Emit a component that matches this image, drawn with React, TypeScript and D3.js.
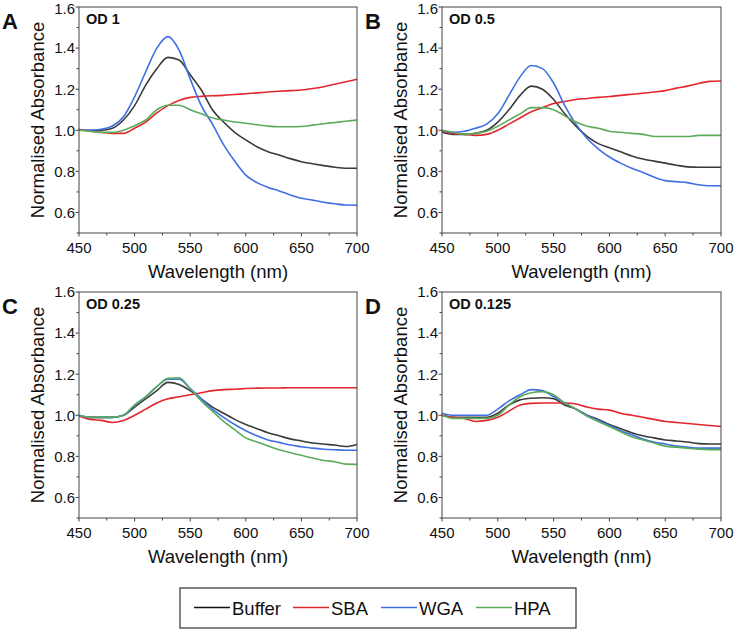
import * as d3 from 'd3';
import React from 'react';

// wavelength sampling (nm)
const wavelengths = [
  450, 460, 470, 480, 490, 500, 510, 520, 530, 540, 550, 560, 570, 580, 590,
  600, 610, 620, 630, 640, 650, 660, 670, 680, 690, 700,
];

const seriesNames = ['Buffer', 'SBA', 'WGA', 'HPA'];
const seriesColors = ['#3a3a3a', '#e3262d', '#3f6fe2', '#5cab5c'];

// panel A, OD 1
const bufferA = [1.0, 1.0, 1.0, 1.01, 1.05, 1.12, 1.22, 1.3, 1.355, 1.342, 1.27, 1.196, 1.1, 1.04, 0.99, 0.953, 0.92, 0.896, 0.88, 0.862, 0.847, 0.837, 0.828, 0.82, 0.815, 0.815];
const sbaA = [1.005, 0.995, 0.99, 0.985, 0.985, 1.01, 1.04, 1.085, 1.12, 1.145, 1.16, 1.165, 1.168, 1.17, 1.174, 1.178, 1.182, 1.186, 1.19, 1.193, 1.196, 1.203, 1.212, 1.224, 1.236, 1.248];
const wgaA = [1.0, 1.0, 1.005, 1.021, 1.066, 1.163, 1.285, 1.4, 1.456, 1.39, 1.25, 1.12, 1.03, 0.93, 0.85, 0.782, 0.745, 0.722, 0.705, 0.685, 0.669, 0.66, 0.65, 0.642, 0.636, 0.635];
const hpaA = [1.0, 0.995, 0.99, 0.99, 1.0, 1.022, 1.05, 1.1, 1.122, 1.122, 1.1, 1.08, 1.06, 1.05, 1.04, 1.034, 1.027, 1.02, 1.017, 1.017, 1.018, 1.025, 1.032, 1.038, 1.044, 1.05];

// panel B, OD 0.5
const bufferB = [0.99, 0.98, 0.98, 0.985, 1.0, 1.04, 1.1, 1.17, 1.215, 1.2, 1.15, 1.08, 1.02, 0.97, 0.935, 0.915, 0.895, 0.875, 0.86, 0.85, 0.84, 0.83, 0.822, 0.82, 0.82, 0.82];
const sbaB = [0.995, 0.985, 0.98, 0.975, 0.98, 1.0, 1.03, 1.06, 1.09, 1.11, 1.13, 1.14, 1.15, 1.155, 1.16, 1.164, 1.17, 1.175, 1.18, 1.186, 1.193, 1.205, 1.215, 1.228, 1.238, 1.24];
const wgaB = [1.0, 0.99, 0.995, 1.01, 1.03, 1.08, 1.17, 1.26, 1.315, 1.3, 1.23, 1.12, 1.03, 0.96, 0.91, 0.87, 0.84, 0.815, 0.795, 0.772, 0.755, 0.75, 0.745, 0.735, 0.73, 0.73];
const hpaB = [1.0, 0.99, 0.98, 0.985, 0.995, 1.02, 1.05, 1.08, 1.11, 1.11, 1.1, 1.07, 1.04, 1.02, 1.01, 0.995, 0.99, 0.985, 0.98, 0.97, 0.97, 0.97, 0.97, 0.975, 0.975, 0.975];

// panel C, OD 0.25
const bufferC = [1.0, 0.99, 0.99, 0.99, 1.0, 1.04, 1.08, 1.12, 1.16, 1.15, 1.12, 1.08, 1.04, 1.01, 0.98, 0.955, 0.935, 0.915, 0.9, 0.885, 0.875, 0.865, 0.86, 0.855, 0.848, 0.858];
const sbaC = [0.995, 0.98, 0.975, 0.965, 0.975, 1.0, 1.03, 1.06, 1.08, 1.09, 1.1, 1.11, 1.12, 1.125, 1.127, 1.13, 1.132, 1.133, 1.133, 1.134, 1.134, 1.134, 1.134, 1.134, 1.134, 1.134];
const wgaC = [1.0, 0.99, 0.99, 0.99, 1.0, 1.05, 1.09, 1.14, 1.175, 1.175, 1.13, 1.08, 1.03, 0.99, 0.955, 0.925, 0.9, 0.88, 0.868, 0.855, 0.847, 0.84, 0.835, 0.832, 0.83, 0.83];
const hpaC = [1.0, 0.99, 0.99, 0.99, 1.0, 1.05, 1.09, 1.14, 1.18, 1.183, 1.13, 1.07, 1.02, 0.97, 0.93, 0.89, 0.87, 0.85, 0.832, 0.818, 0.805, 0.792, 0.78, 0.774, 0.762, 0.761];

// panel D, OD 0.125
const bufferD = [1.0, 0.99, 0.99, 0.99, 0.99, 1.01, 1.05, 1.075, 1.083, 1.085, 1.08, 1.05, 1.03, 1.0, 0.98, 0.955, 0.935, 0.915, 0.9, 0.89, 0.88, 0.875, 0.87, 0.862, 0.86, 0.86];
const sbaD = [1.0, 0.99, 0.985, 0.97, 0.975, 0.99, 1.02, 1.05, 1.058, 1.06, 1.06, 1.06, 1.055, 1.04, 1.03, 1.025, 1.01, 1.0, 0.99, 0.98, 0.97, 0.965, 0.96, 0.955, 0.95, 0.945];
const wgaD = [1.01, 1.0, 1.0, 1.0, 1.0, 1.03, 1.07, 1.1, 1.125, 1.12, 1.09, 1.06, 1.03, 1.0, 0.975, 0.95, 0.925, 0.905, 0.885, 0.87, 0.86, 0.85, 0.845, 0.84, 0.84, 0.84];
const hpaD = [1.0, 0.985, 0.985, 0.985, 0.985, 1.0, 1.05, 1.09, 1.11, 1.115, 1.1, 1.06, 1.03, 0.995, 0.97, 0.945, 0.92, 0.895, 0.88, 0.865, 0.85, 0.845, 0.84, 0.835, 0.833, 0.833];

const panelLetters = ['A', 'B', 'C', 'D'];
const panelTitles = ['OD 1', 'OD 0.5', 'OD 0.25', 'OD 0.125'];
const panelSeries = [
  [bufferA, sbaA, wgaA, hpaA],
  [bufferB, sbaB, wgaB, hpaB],
  [bufferC, sbaC, wgaC, hpaC],
  [bufferD, sbaD, wgaD, hpaD],
];

const xMajor = [450, 500, 550, 600, 650, 700];
const xMinor = [475, 525, 575, 625, 675];
const yMajor = [0.6, 0.8, 1.0, 1.2, 1.4, 1.6];
const yMinor = [0.5, 0.7, 0.9, 1.1, 1.3, 1.5];

const FONT = '"Liberation Sans", Arial, Helvetica, sans-serif';
const AXIS = '#444';

const Panel = ({ idx, left, top, width, height }) => {
  const x = d3.scaleLinear().domain([450, 700]).range([left, left + width]);
  const y = d3.scaleLinear().domain([0.5, 1.6]).range([top + height, top]);
  const line = d3
    .line<number>()
    .x((d, i) => x(wavelengths[i]))
    .y((d) => y(d))
    .curve(d3.curveMonotoneX);
  const bottom = top + height;

  return (
    <g>
      {panelSeries[idx].map((vals, s) => (
        <path
          key={s}
          d={line(vals) || ''}
          fill="none"
          stroke={seriesColors[s]}
          strokeWidth={1.6}
        />
      ))}
      <rect x={left} y={top} width={width} height={height} fill="none" stroke={AXIS} strokeWidth={1} />
      {xMajor.map((t) => (
        <g key={'xm' + t}>
          <line x1={x(t)} x2={x(t)} y1={bottom} y2={bottom + 3.5} stroke={AXIS} />
          <text x={x(t)} y={bottom + 20} textAnchor="middle" fontSize={15} fill="#111">
            {t}
          </text>
        </g>
      ))}
      {xMinor.map((t) => (
        <line key={'xn' + t} x1={x(t)} x2={x(t)} y1={bottom} y2={bottom + 2.5} stroke={AXIS} />
      ))}
      {yMajor.map((t) => (
        <g key={'ym' + t}>
          <line x1={left - 3.5} x2={left} y1={y(t)} y2={y(t)} stroke={AXIS} />
          {/* keep the top label inside the page */}
          <text x={left - 4} y={Math.max(y(t) + 5.4, 14)} textAnchor="end" fontSize={15} fill="#111">
            {t.toFixed(1)}
          </text>
        </g>
      ))}
      {yMinor.map((t) => (
        <line key={'yn' + t} x1={left - 2.5} x2={left} y1={y(t)} y2={y(t)} stroke={AXIS} />
      ))}
      <text
        transform={`translate(${left - 35},${top + height / 2}) rotate(-90)`}
        textAnchor="middle"
        fontSize={18.5}
        fill="#111"
      >
        Normalised Absorbance
      </text>
      <text x={left + width / 2} y={bottom + 45} textAnchor="middle" fontSize={18.5} fill="#111">
        Wavelength (nm)
      </text>
      <text x={left + 7} y={top + 17} fontSize={14.5} fontWeight="bold" fill="#111">
        {panelTitles[idx]}
      </text>
      <text x={left - 77} y={top + 22} fontSize={22} fontWeight="bold" fill="#111">
        {panelLetters[idx]}
      </text>
    </g>
  );
};

const App = () => {
  const panels = [
    { left: 79, top: 7 },
    { left: 442, top: 7 },
    { left: 79, top: 292 },
    { left: 442, top: 292 },
  ];
  const legendX = [194, 293, 381, 476];

  return (
    <svg
      width={734}
      height={630}
      style={{ position: 'absolute', left: 0, top: 0, fontFamily: FONT }}
    >
      <rect width={734} height={630} fill="#fff" />
      {panels.map((p, i) => (
        <Panel key={i} idx={i} left={p.left} top={p.top} width={i % 2 ? 279 : 278} height={226} />
      ))}
      <rect x={180} y={588} width={396} height={40} fill="#fff" stroke="#333" strokeWidth={1.2} />
      {seriesNames.map((n, i) => (
        <g key={n}>
          <line
            x1={legendX[i]}
            x2={legendX[i] + 36}
            y1={607.5}
            y2={607.5}
            stroke={i === 0 ? '#111' : seriesColors[i]}
            strokeWidth={1.6}
          />
          <text x={legendX[i] + 38} y={615} fontSize={18.5} fill="#111">
            {n}
          </text>
        </g>
      ))}
    </svg>
  );
};

export default App;
